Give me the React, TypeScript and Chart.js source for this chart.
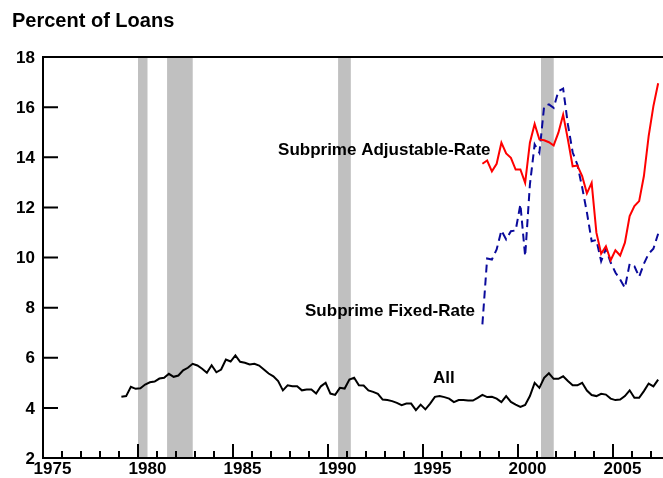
import { useEffect, useRef } from "react";
import { Chart, registerables } from "chart.js";

Chart.register(...registerables);

// Quarterly delinquency rates, percent of loans.
const ALL_START = 1979; // first quarter: 1979 Q1
const SUBPRIME_START = 1998; // first quarter: 1998 Q1

const allLoans = [
  4.44, 4.47, 4.84, 4.76,
  4.78, 4.93, 5.02, 5.05,
  5.17, 5.2, 5.36, 5.24,
  5.29, 5.5, 5.6, 5.76,
  5.69, 5.56, 5.4, 5.7,
  5.42, 5.53, 5.93, 5.85,
  6.09, 5.84, 5.8, 5.73,
  5.76, 5.69, 5.53, 5.37,
  5.26, 5.07, 4.7, 4.9,
  4.86, 4.86, 4.7, 4.73,
  4.73, 4.57, 4.86, 5.0,
  4.57, 4.52, 4.8, 4.77,
  5.13, 5.2, 4.9, 4.89,
  4.7, 4.64, 4.56, 4.33,
  4.31, 4.27, 4.2, 4.11,
  4.17, 4.17, 3.91, 4.13,
  3.94, 4.17, 4.44, 4.47,
  4.43, 4.37, 4.23, 4.31,
  4.31, 4.29, 4.29, 4.4,
  4.52, 4.43, 4.44, 4.37,
  4.23, 4.47, 4.24, 4.13,
  4.04, 4.12, 4.47, 5.0,
  4.8, 5.2, 5.38, 5.16,
  5.16, 5.26, 5.07, 4.9,
  4.9, 5.0, 4.69, 4.51,
  4.47, 4.56, 4.53, 4.37,
  4.31, 4.33, 4.47, 4.7,
  4.4, 4.4, 4.67, 4.97,
  4.86, 5.13,
];

const subprimeAdjustable = [
  13.74, 13.87, 13.44, 13.74,
  14.58, 14.15, 13.98, 13.51,
  13.51, 12.98, 14.58, 15.33,
  14.71, 14.68, 14.6, 14.47,
  14.98, 15.7, 14.71, 13.64,
  13.67, 13.25, 12.56, 12.98,
  10.99, 10.15, 10.45, 9.89,
  10.29, 10.08, 10.59, 11.65,
  12.05, 12.25, 13.25, 14.84,
  16.04, 16.95,
];

const subprimeFixed = [
  7.33, 9.96, 9.92, 10.32,
  11.08, 10.72, 11.05, 11.08,
  12.12, 10.05, 12.91, 14.51,
  14.18, 16.04, 16.11, 15.97,
  16.64, 16.74, 15.31, 14.2,
  13.7, 12.8, 11.8, 10.65,
  10.7, 9.85, 10.35, 9.8,
  9.4, 9.12, 8.79, 9.75,
  9.65, 9.23, 9.75, 10.15,
  10.35, 10.95,
];

// Recession periods (shaded), in fractional years.
const recessionStarts = [1980.0, 1981.53, 1990.53, 2001.21];
const recessionEnds = [1980.5, 1982.88, 1991.2, 2001.88];

const yTickValues = [2, 4, 6, 8, 10, 12, 14, 16, 18];
const yearLabels = [1975, 1980, 1985, 1990, 1995, 2000, 2005];

// Series names placed in data coordinates (left edge, baseline).
const seriesNames = ["Subprime Adjustable-Rate", "Subprime Fixed-Rate", "All"];
const seriesNameX = [1987.37, 1988.79, 1995.53];
const seriesNameY = [14.07, 7.67, 5.0];

const X_MIN = 1975;
const X_MAX = 2007.63;
const Y_MIN = 2;
const Y_MAX = 18;

const FONT_FAMILY = '"Liberation Sans", Arial, Helvetica, sans-serif';

const toPoints = (values: number[], startYear: number) =>
  values.map((v, i) => ({ x: startYear + 0.125 + i * 0.25, y: v }));

const frame = {
  id: "frame",
  beforeDatasetsDraw(chart: any) {
    const { ctx, chartArea: a, scales } = chart;
    const x = scales.x;
    ctx.save();
    ctx.fillStyle = "#c0c0c0";
    recessionStarts.forEach((s, i) => {
      const x0 = x.getPixelForValue(s);
      const x1 = x.getPixelForValue(recessionEnds[i]);
      ctx.fillRect(x0, a.top, x1 - x0, a.bottom - a.top);
    });
    ctx.restore();
  },
  afterDatasetsDraw(chart: any) {
    const { ctx, chartArea: a, scales } = chart;
    const x = scales.x;
    const y = scales.y;
    ctx.save();
    ctx.strokeStyle = "#000";
    ctx.lineWidth = 2;
    ctx.lineCap = "butt";

    // axis frame: left, top, bottom
    ctx.beginPath();
    ctx.moveTo(chart.width, a.top);
    ctx.lineTo(a.left, a.top);
    ctx.lineTo(a.left, a.bottom);
    ctx.lineTo(chart.width, a.bottom);
    ctx.stroke();

    // y ticks pointing inward
    ctx.beginPath();
    yTickValues.forEach((v) => {
      const py = y.getPixelForValue(v);
      ctx.moveTo(a.left, py);
      ctx.lineTo(a.left + 15, py);
    });
    ctx.stroke();

    // x ticks: every year, longer every five years
    ctx.beginPath();
    for (let yr = X_MIN + 1; yr <= Math.floor(X_MAX); yr++) {
      const px = Math.round(x.getPixelForValue(yr));
      const len = yr % 5 === 0 ? 14 : 7;
      ctx.moveTo(px, a.bottom);
      ctx.lineTo(px, a.bottom - len);
    }
    ctx.stroke();

    ctx.fillStyle = "#000";
    ctx.font = `bold 17px ${FONT_FAMILY}`;

    // y labels
    ctx.textAlign = "right";
    ctx.textBaseline = "middle";
    yTickValues.forEach((v) => {
      ctx.fillText(String(v), a.left - 8, y.getPixelForValue(v) + 1);
    });

    // year labels, centred on the middle of the year
    ctx.textAlign = "center";
    ctx.textBaseline = "top";
    yearLabels.forEach((yr) => {
      ctx.fillText(String(yr), x.getPixelForValue(yr + 0.5), a.bottom + 3);
    });

    // series names
    ctx.textAlign = "left";
    ctx.textBaseline = "alphabetic";
    seriesNames.forEach((name, i) => {
      ctx.fillText(name, x.getPixelForValue(seriesNameX[i]), y.getPixelForValue(seriesNameY[i]));
    });

    // title
    ctx.font = `bold 20px ${FONT_FAMILY}`;
    ctx.fillText("Percent of Loans", 12, 27);
    ctx.restore();
  },
};

export default function App() {
  const canvasRef = useRef<HTMLCanvasElement>(null);

  useEffect(() => {
    const canvas = canvasRef.current;
    if (!canvas) return;
    const chart = new Chart(canvas, {
      type: "line",
      data: {
        datasets: [
          {
            label: "All",
            data: toPoints(allLoans, ALL_START),
            borderColor: "#000000",
            borderWidth: 2,
          },
          {
            label: "Subprime Adjustable-Rate",
            data: toPoints(subprimeAdjustable, SUBPRIME_START),
            borderColor: "#ff0000",
            borderWidth: 2,
          },
          {
            label: "Subprime Fixed-Rate",
            data: toPoints(subprimeFixed, SUBPRIME_START),
            borderColor: "#0a0a9c",
            borderWidth: 2,
            borderDash: [8, 5],
          },
        ],
      },
      options: {
        responsive: false,
        animation: false,
        devicePixelRatio: 1,
        layout: { padding: { left: 43, top: 57, right: 0, bottom: 20 } },
        plugins: {
          legend: { display: false },
          tooltip: { enabled: false },
        },
        elements: {
          point: { radius: 0, hoverRadius: 0 },
          line: { tension: 0, fill: false },
        },
        scales: {
          x: { type: "linear", min: X_MIN, max: X_MAX, display: false },
          y: { type: "linear", min: Y_MIN, max: Y_MAX, display: false },
        },
      },
      plugins: [frame],
    });
    return () => chart.destroy();
  }, []);

  return (
    <div
      style={{
        position: "fixed",
        left: 0,
        top: 0,
        width: 663,
        height: 478,
        background: "#ffffff",
        overflow: "hidden",
      }}
    >
      <canvas ref={canvasRef} width={663} height={478} style={{ display: "block" }} />
    </div>
  );
}
